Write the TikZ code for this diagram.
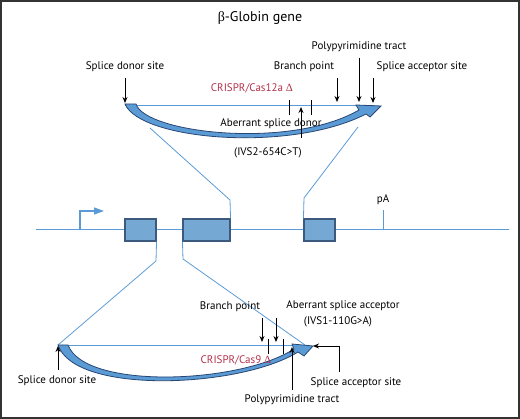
\documentclass[tikz,border=0pt]{standalone}
\usepackage{fontspec}
\setmainfont{PT Sans}
\newfontfamily\grk{Liberation Serif}
\usetikzlibrary{arrows.meta}
\definecolor{lblue}{RGB}{91,155,213}
\definecolor{bfill}{RGB}{117,168,211}
\definecolor{bdark}{RGB}{60,90,125}
\definecolor{adark}{RGB}{40,70,115}
\definecolor{crred}{RGB}{180,50,75}
\tikzset{
  lbl/.style={inner sep=0pt, font=\fontsize{11}{13}\selectfont},
  redlbl/.style={lbl, text=crred},
  thin blue/.style={draw=lblue, line width=0.8pt},
  exon/.style={draw=bdark, fill=bfill, line width=1.1pt, minimum height=22pt, inner sep=0pt},
  ptr/.style={-{Stealth[length=6pt,width=5pt]}, line width=0.9pt, black},
  tick/.style={line width=0.9pt, black},
  band/.style={fill=lblue, draw=adark, line width=0.8pt},
}
\begin{document}
\begin{tikzpicture}[x=1pt,y=-1pt]
\useasboundingbox (0,0) rectangle (520,419);
\draw[line width=2pt, draw=black!80] (1,1) rectangle (519,418);
\node[lbl, font=\fontsize{14}{16}\selectfont] (title) at (260,18) {{\grk β}-Globin gene};

% ---------------- main gene line ----------------
\coordinate (mlL) at (36,229);
\coordinate (mlR) at (509,229);
\draw[thin blue] (mlL) -- (mlR);
\coordinate (prom) at (80,229);
\coordinate (promT) at (80,211);
\coordinate (promE) at (104,211);
\draw[thin blue, line width=1.1pt, -{Triangle[length=10pt,width=7pt,fill=lblue]}] (prom) -- (promT) -- (promE);
\node[exon, minimum width=31pt] (ex1) at (140.5,230) {};
\node[exon, minimum width=47pt] (ex2) at (206.5,230) {};
\node[exon, minimum width=31pt] (ex3) at (319.5,230) {};
\coordinate (pAb) at (383,229);
\coordinate (pAt) at (383,210);
\draw[thin blue] (pAb) -- (pAt);
\node[lbl] (pA) at (383,200) {pA};

% ---------------- top intron (IVS2) ----------------
\coordinate (tD) at (125,105);
\coordinate (tA) at (375,105);
\draw[thin blue] (tD) -- (tA);
\coordinate (tfl) at (150,128);
\coordinate (tflb) at (230,200);
\coordinate (tfr) at (358,127);
\coordinate (tfrb) at (304,198);
\draw[thin blue] (tfl) -- (tflb) -- (ex2.north east);
\draw[thin blue] (tfr) -- (tfrb) -- (ex3.north west);
\path[band] (125,104) -- (136,104) .. controls (145,133) and (290,150) .. (359,110)
  -- (356,105) -- (381,106) -- (370,117) -- (366,114)
  .. controls (290,153) and (140,140) .. (125,104) -- cycle;

\node[lbl] (tsd) at (125,67) {Splice donor site};
\coordinate (tsdA) at (125,78);
\coordinate (tsdB) at (125,103);
\draw[ptr] (tsdA) -- (tsdB);
\node[lbl] (tbp) at (304,67) {Branch point};
\coordinate (tbpA) at (337,78);
\coordinate (tbpB) at (337,102);
\draw[ptr] (tbpA) -- (tbpB);
\node[lbl] (tpp) at (359,47) {Polypyrimidine tract};
\coordinate (tppA) at (359,58);
\coordinate (tppB) at (359,102);
\draw[ptr] (tppA) -- (tppB);
\node[lbl] (tsa) at (422,67) {Splice acceptor site};
\coordinate (tsaA) at (373,78);
\coordinate (tsaB) at (373,103);
\draw[ptr] (tsaA) -- (tsaB);
\node[redlbl] (tcr) at (252,88) {CRISPR/Cas12a {\grk Δ}};
\coordinate (tk1a) at (289,100); \coordinate (tk1b) at (289,115);
\coordinate (tk2a) at (311,100); \coordinate (tk2b) at (311,115);
\draw[tick] (tk1a) -- (tk1b);
\draw[tick] (tk2a) -- (tk2b);
\node[lbl] (tab) at (271,124) {Aberrant splice donor};
\coordinate (tabA) at (301,138);
\coordinate (tabB) at (301,107);
\draw[ptr] (tabA) -- (tabB);
\node[lbl] (tivs) at (268,153) {(IVS2-654C>T)};

% ---------------- bottom intron (IVS1) ----------------
\coordinate (bD) at (58,345);
\coordinate (bA) at (305,345);
\draw[thin blue] (bD) -- (bA);
\coordinate (bfl) at (156,261);
\coordinate (bfr) at (183,259);
\draw[thin blue] (ex1.south east) -- (bfl) -- (bD);
\draw[thin blue] (ex2.south west) -- (bfr) -- (bA);
\path[band] (58,345) -- (68,345) .. controls (85,390) and (240,384) .. (294,349)
  -- (292,344) -- (313,346) -- (304,356) -- (298,352)
  .. controls (240,388) and (75,395) .. (58,345) -- cycle;

\node[lbl] (bsd) at (57,381) {Splice donor site};
\coordinate (bsdA) at (58,370);
\coordinate (bsdB) at (58,346);
\draw[ptr] (bsdA) -- (bsdB);
\node[lbl] (bbp) at (230,307) {Branch point};
\coordinate (bbp1A) at (262,318); \coordinate (bbp1B) at (262,342);
\coordinate (bbp2A) at (276,318); \coordinate (bbp2B) at (276,342);
\draw[ptr] (bbp1A) -- (bbp1B);
\draw[ptr] (bbp2A) -- (bbp2B);
\node[lbl] (bab) at (343,306) {Aberrant splice acceptor};
\node[lbl] (bivs) at (338,322) {(IVS1-110G>A)};
\coordinate (bk1a) at (268,339); \coordinate (bk1b) at (268,354);
\coordinate (bk2a) at (283,339); \coordinate (bk2b) at (283,354);
\draw[tick] (bk1a) -- (bk1b);
\draw[tick] (bk2a) -- (bk2b);
\node[redlbl] (bcr) at (236,360) {CRISPR/Cas9 {\grk Δ}};
\node[lbl] (bpp) at (292,400) {Polypyrimidine tract};
\coordinate (bppA) at (292,390);
\coordinate (bppB) at (292,347);
\draw[ptr] (bppA) -- (bppB);
\node[lbl] (bsa) at (356,383) {Splice acceptor site};
\coordinate (bsaA) at (339,372);
\coordinate (bsaM) at (339,346);
\coordinate (bsaB) at (313,346);
\draw[ptr] (bsaA) -- (bsaM) -- (bsaB);
\end{tikzpicture}
\end{document}
